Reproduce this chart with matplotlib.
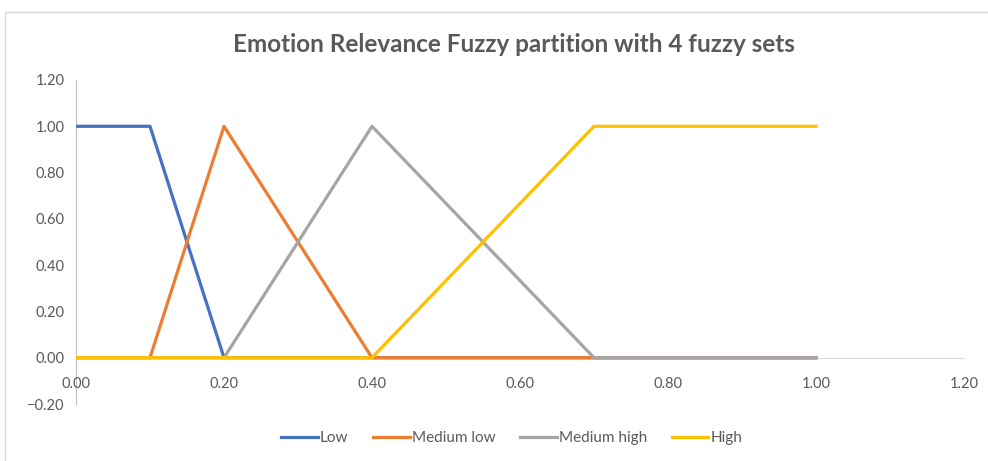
import matplotlib
matplotlib.use('Agg')
import matplotlib.pyplot as plt
from matplotlib.patches import Rectangle

# membership function break points
x = [0.0, 0.1, 0.2, 0.4, 0.7, 1.0]
low = [1, 1, 0, 0, 0, 0]
medium_low = [0, 0, 1, 0, 0, 0]
medium_high = [0, 0, 0, 1, 0, 0]
high = [0, 0, 0, 0, 1, 1]

series = [('Low', low, '#4472C4'),
          ('Medium low', medium_low, '#ED7D31'),
          ('Medium high', medium_high, '#A5A5A5'),
          ('High', high, '#FFC000')]

xticks = [0.0, 0.2, 0.4, 0.6, 0.8, 1.0, 1.2]
yticks = [-0.2, 0.0, 0.2, 0.4, 0.6, 0.8, 1.0, 1.2]

plt.rcParams['font.family'] = ['Lato', 'DejaVu Sans']
txt = '#595959'

fig = plt.figure(figsize=(9.88, 4.61), dpi=100)
fig.patches.append(Rectangle((5/988, -0.01), 1.0, 1 - 12/461 + 0.01,
                             transform=fig.transFigure, fill=False,
                             edgecolor='#D9D9D9', linewidth=1.0))
ax = fig.add_axes([76/988, 1 - 404/461, (964 - 76)/988, (404 - 80)/461])

for name, vals, col in series:
    ax.plot(x, vals, color=col, lw=2.3, label=name, solid_joinstyle='round')

ax.set_xlim(0, 1.2)
ax.set_ylim(-0.2, 1.2)
ax.set_xticks(xticks)
ax.set_yticks(yticks)
ax.set_xticklabels([f'{v:.2f}' for v in xticks])
ax.set_yticklabels([f'{v:.2f}'.replace('-', '\u2212') for v in yticks])
ax.tick_params(length=0, colors=txt, labelsize=10.5)
ax.tick_params(axis='x', pad=14)
ax.tick_params(axis='y', pad=8)

for s in ['top', 'right']:
    ax.spines[s].set_visible(False)
ax.spines['left'].set_position(('data', 0))
ax.spines['bottom'].set_position(('data', 0))
ax.spines['left'].set_color('#BFBFBF')
ax.spines['bottom'].set_color('#D9D9D9')
ax.spines['left'].set_zorder(0)
ax.spines['bottom'].set_zorder(0)

fig.text(0.52, 1 - 44/461, 'Emotion Relevance Fuzzy partition with 4 fuzzy sets',
         ha='center', va='center', fontsize=17.5, fontweight='bold', color=txt)

fig.legend(loc='center', bbox_to_anchor=(0.518, 1 - 438/461), ncol=4,
           frameon=False, fontsize=11, labelcolor=txt, handlelength=2.4,
           handletextpad=0.15, columnspacing=1.6)

fig.savefig('out.png', dpi=100)
